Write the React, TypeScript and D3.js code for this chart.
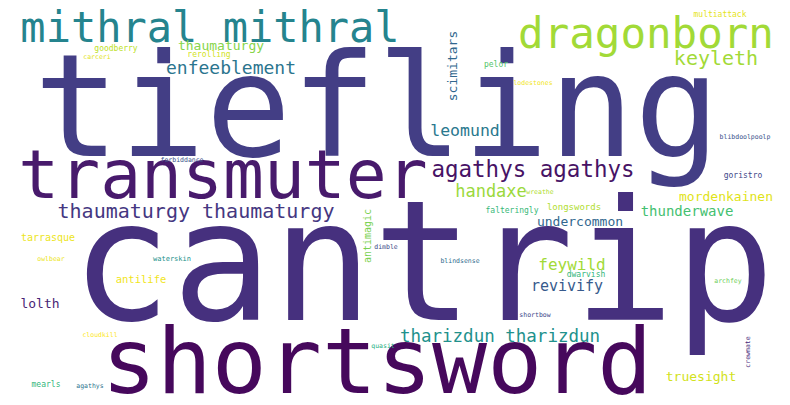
import * as d3 from 'd3';

// word list and how often each word occurs
const words = [
  'cantrip', 'tiefling', 'shortsword', 'transmuter', 'mithral mithral', 'dragonborn',
  'agathys agathys', 'thaumaturgy thaumaturgy', 'keyleth', 'enfeeblement', 'thaumaturgy',
  'goodberry', 'carceri', 'rerolling', 'scimitars', 'pelor', 'lodestones', 'multiattack',
  'leomund', 'blibdoolpoolp', 'goristro', 'handaxe', 'wreathe', 'mordenkainen', 'longswords',
  'falteringly', 'thunderwave', 'undercommon', 'blindsense', 'feywild', 'dwarvish', 'revivify',
  'archfey', 'shortbow', 'tharizdun tharizdun', 'crewmate', 'truesight', 'quasit', 'cloudkill',
  'mearls', 'agathys', 'lolth', 'antilife', 'tarrasque', 'owlbear', 'waterskin', 'forbiddance',
  'antimagic', 'dimble',
];
const counts = [
  334, 285, 183, 136, 84, 85,
  45, 40, 40, 36, 26,
  16, 13, 16, 26, 16, 13, 16,
  33, 13, 16, 34, 13, 26, 18,
  16, 28, 26, 13, 32, 16, 30,
  13, 13, 35, 13, 26, 13, 13,
  16, 13, 26, 21, 20, 13, 14, 13,
  20, 13,
];

// placement of each word: ink centre x, baseline y, rotation, colour position on viridis
const posX = [
  423, 377, 377, 223, 210, 646,
  533, 196, 716, 231, 221,
  116, 97, 209, 457, 496, 533, 720,
  465, 745, 743, 491, 540, 726, 574,
  512, 687, 580, 460, 572, 586, 567,
  728, 535, 500, 750, 701, 383, 100,
  46, 90, 40, 141, 48, 51, 172, 182,
  371, 386,
];
const posY = [
  320, 156, 393, 198, 42, 48,
  177, 218, 65, 74, 50,
  51, 59, 57, 66, 67, 85, 17,
  136, 139, 178, 197, 194, 201, 210,
  213, 216, 226, 263, 270, 277, 291,
  283, 317, 342, 352, 381, 348, 337,
  387, 388, 308, 283, 241, 261, 261, 162,
  236, 249,
];
const vertical = new Set(['scimitars', 'crewmate', 'antimagic']);
const tone = [
  0.14, 0.18, 0.02, 0.07, 0.45, 0.86,
  0.05, 0.16, 0.86, 0.39, 0.82,
  0.9, 0.95, 0.93, 0.33, 0.73, 0.98, 0.96,
  0.4, 0.25, 0.22, 0.85, 0.88, 0.95, 0.88,
  0.67, 0.7, 0.33, 0.35, 0.86, 0.66, 0.28,
  0.78, 0.22, 0.5, 0.12, 0.93, 0.63, 1.0,
  0.66, 0.38, 0.1, 0.98, 0.97, 0.97, 0.5, 0.25,
  0.8, 0.22,
];

const W = 790;
const H = 405;

export default function App() {
  const size = d3.scaleLinear().domain([0, d3.max(counts) as number]).range([0, 167]);

  return (
    <svg
      width={W}
      height={H}
      style={{ position: 'fixed', left: 0, top: 0, background: '#fff' }}
      fontFamily="'DejaVu Sans Mono', monospace"
    >
      <rect width={W} height={H} fill="#fff" />
      {words.map((w, i) => {
        const rot = vertical.has(w) ? -90 : 0;
        return (
          <text
            key={i}
            transform={`translate(${posX[i]},${posY[i]}) rotate(${rot})`}
            textAnchor="middle"
            fontSize={size(counts[i])}
            fill={d3.interpolateViridis(tone[i])}
          >
            {w}
          </text>
        );
      })}
    </svg>
  );
}
